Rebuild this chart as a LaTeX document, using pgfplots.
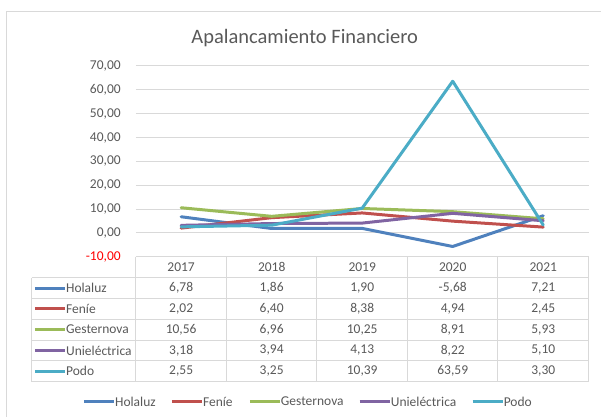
\documentclass[border=0pt]{standalone}
\usepackage{pgfplots}
\pgfplotsset{compat=1.18}
\usepackage{fontspec}
\setmainfont{Carlito}
\definecolor{cBlue}{HTML}{4F81BD}
\definecolor{cRed}{HTML}{C0504D}
\definecolor{cGreen}{HTML}{9BBB59}
\definecolor{cPurple}{HTML}{8064A2}
\definecolor{cAqua}{HTML}{4BACC6}
\definecolor{txt}{HTML}{595959}
\definecolor{gridc}{HTML}{D9D9D9}
\begin{document}
\begin{tikzpicture}[x=1pt,y=1pt,font=\fontsize{13.5}{16}\selectfont]
% canvas
\path (0,0) rectangle (601,417);
\draw[gridc,line width=1pt] (6.5,0) -- (6.5,405.5) -- (601,405.5);
% title
\node[text=txt,font=\fontsize{20.5}{24}\selectfont] at (305,379) {Apalancamiento Financiero};
\begin{axis}[
  at={(136pt,160pt)}, anchor=south west,
  width=453pt, height=191pt, scale only axis,
  xmin=-0.5, xmax=4.5, ymin=-10, ymax=70,
  xtick=\empty,
  ytick={-10,0,10,20,30,40,50,60,70},
  yticklabels={{\textcolor{red}{-10,00}},{0,00},{10,00},{20,00},{30,00},{40,00},{50,00},{60,00},{70,00}},
  yticklabel style={font=\fontsize{13.5}{16}\selectfont, text=txt, inner sep=0pt, anchor=east, xshift=-15pt},
  ymajorgrids, grid style={gridc, line width=1pt},
  axis line style={draw=none}, major tick length=0pt,
  clip=false,
  every axis plot/.append style={line width=3pt, line join=round, line cap=round, no markers},
]
\addplot[cBlue] coordinates {(0,6.78) (1,1.86) (2,1.90) (3,-5.68) (4,7.21)};
\addplot[cRed] coordinates {(0,2.02) (1,6.40) (2,8.38) (3,4.94) (4,2.45)};
\addplot[cGreen] coordinates {(0,10.56) (1,6.96) (2,10.25) (3,8.91) (4,5.93)};
\addplot[cPurple] coordinates {(0,3.18) (1,3.94) (2,4.13) (3,8.22) (4,5.10)};
\addplot[cAqua] coordinates {(0,2.55) (1,3.25) (2,10.39) (3,63.59) (4,3.30)};
\end{axis}
% data table
\def\rh{20.833}
\def\cw{90.6}
\foreach \k in {1,...,6} {\draw[gridc,line width=1pt] (32,{160-\k*\rh}) -- (589,{160-\k*\rh});}
\draw[gridc,line width=1pt] (136,160) -- (589,160);
\draw[gridc,line width=1pt] (32,{160-\rh}) -- (32,{160-6*\rh});
\foreach \k in {0,...,5} {\draw[gridc,line width=1pt] ({136+\k*\cw},160) -- ({136+\k*\cw},{160-6*\rh});}
% header
\foreach \yr [count=\i from 0] in {2017,2018,2019,2020,2021}
  {\node[text=txt] at ({136+(\i+0.5)*\cw},{160-0.5*\rh}) {\yr};}
% rows
\foreach \col/\r in {cBlue/1,cRed/2,cGreen/3,cPurple/4,cAqua/5}{
  \draw[\col,line width=3pt] (35,{160-(\r+0.5)*\rh}) -- (65,{160-(\r+0.5)*\rh});
}
\node[text=txt,anchor=west,inner sep=0pt] at (66,{160-1.5*\rh}) {Holaluz};
\node[text=txt,anchor=west,inner sep=0pt] at (66,{160-2.5*\rh}) {Feníe};
\node[text=txt,anchor=west,inner sep=0pt] at (66,{160-3.5*\rh}) {Gesternova};
\node[text=txt,anchor=west,inner sep=0pt] at (66,{160-4.5*\rh}) {Unieléctrica};
\node[text=txt,anchor=west,inner sep=0pt] at (66,{160-5.5*\rh}) {Podo};
\foreach \r/\a/\b/\c/\d/\e in {
  1/{6,78}/{1,86}/{1,90}/{-5,68}/{7,21},
  2/{2,02}/{6,40}/{8,38}/{4,94}/{2,45},
  3/{10,56}/{6,96}/{10,25}/{8,91}/{5,93},
  4/{3,18}/{3,94}/{4,13}/{8,22}/{5,10},
  5/{2,55}/{3,25}/{10,39}/{63,59}/{3,30}}{
  \node[text=txt] at ({136+0.5*\cw},{160-(\r+0.5)*\rh}) {\a};
  \node[text=txt] at ({136+1.5*\cw},{160-(\r+0.5)*\rh}) {\b};
  \node[text=txt] at ({136+2.5*\cw},{160-(\r+0.5)*\rh}) {\c};
  \node[text=txt] at ({136+3.5*\cw},{160-(\r+0.5)*\rh}) {\d};
  \node[text=txt] at ({136+4.5*\cw},{160-(\r+0.5)*\rh}) {\e};
}
% legend
\foreach \x/\col/\name in {84/cBlue/Holaluz,172/cRed/Feníe,250/cGreen/Gesternova,360/cPurple/Unieléctrica,473/cAqua/Podo}{
  \draw[\col,line width=3pt] (\x,15) -- (\x+30,15);
  \node[text=txt,anchor=west,inner sep=0pt] at (\x+31,15) {\name};
}
\end{tikzpicture}
\end{document}
